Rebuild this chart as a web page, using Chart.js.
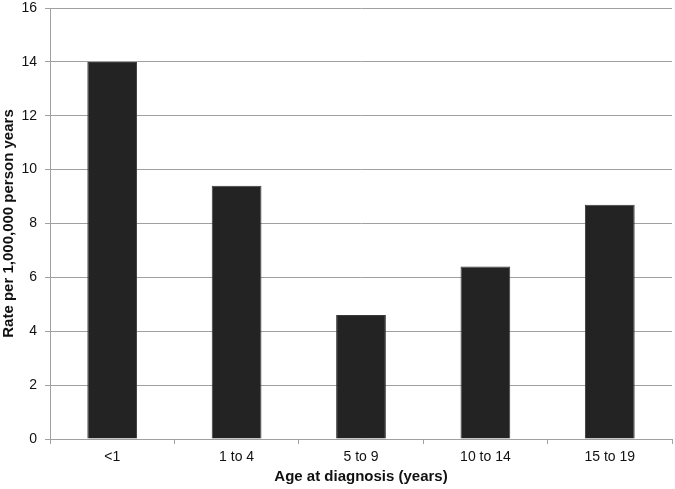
<!DOCTYPE html>
<html>
<head>
<meta charset="utf-8">
<script src="https://cdn.jsdelivr.net/npm/chart.js@4.4.0/dist/chart.umd.min.js"></script>
<style>
  html, body { margin: 0; padding: 0; background: #fff; }
  #wrap { width: 675px; height: 489px; }
</style>
</head>
<body>
<div id="wrap"><canvas id="rateChart"></canvas></div>
<script>
// age groups and incidence rates
const ageGroups = ['<1', '1 to 4', '5 to 9', '10 to 14', '15 to 19'];
const rates = [14.0, 9.4, 4.6, 6.4, 8.7];
const yTicks = [0, 2, 4, 6, 8, 10, 12, 14, 16];

document.addEventListener("DOMContentLoaded", () => {
    const ctx = document.getElementById('rateChart').getContext('2d');
    const fam = '"Liberation Sans", Arial, sans-serif';
    new Chart(ctx, {
        type: 'bar',
        data: {
            labels: ageGroups,
            datasets: [{
                data: rates,
                backgroundColor: '#232323',
                borderColor: '#3a3a3a',
                borderWidth: 1,
                categoryPercentage: 1,
                barPercentage: 0.4
            }]
        },
        options: {
            responsive: true,
            maintainAspectRatio: false,
            animation: false,
            layout: { padding: { top: 0, right: 3, left: 0, bottom: 3 } },
            plugins: { legend: { display: false }, tooltip: { enabled: false } },
            scales: {
                x: {
                    afterFit: axis => { axis.height = 47; },
                    grid: { drawOnChartArea: false, drawTicks: true, tickLength: 5, color: '#a0a0a0', offset: true },
                    border: { color: '#a0a0a0', width: 1 },
                    ticks: { color: '#111', font: { family: fam, size: 14 }, padding: 5 },
                    title: {
                        display: true, text: 'Age at diagnosis (years)', color: '#111',
                        font: { family: fam, size: 15, weight: 'bold' }, padding: { top: 0, bottom: 0 }
                    }
                },
                y: {
                    min: 0, max: 16,
                    afterBuildTicks: axis => { axis.ticks = yTicks.map(v => ({ value: v })); },
                    afterFit: axis => { axis.paddingTop = 8; axis.width = 50; },
                    grid: { color: '#a0a0a0', lineWidth: 1, tickLength: 5 },
                    border: { color: '#a0a0a0', width: 1 },
                    ticks: { color: '#111', font: { family: fam, size: 14 }, padding: 8 },
                    title: {
                        display: true, text: 'Rate per 1,000,000 person years', color: '#111',
                        font: { family: fam, size: 15, weight: 'bold' }, padding: { top: 0, bottom: 0 }
                    }
                }
            }
        }
    });
});
</script>
</body>
</html>
